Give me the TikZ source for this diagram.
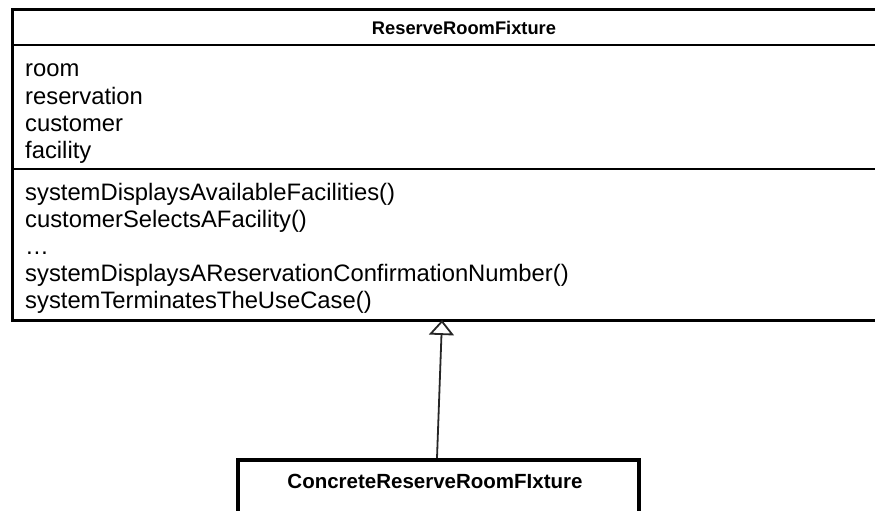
\documentclass[tikz,border=0pt]{standalone}
\usepackage{fontspec}
\setmainfont{Liberation Sans}
\usetikzlibrary{arrows.meta}
\begin{document}
\begin{tikzpicture}[x=1pt,y=-1pt,
  member/.style={anchor=base west, inner sep=0pt, font=\fontsize{23.8}{27}\selectfont},
  classtitle/.style={anchor=base, inner sep=0pt, font=\bfseries\fontsize{18.3}{22}\selectfont},
  classbox/.style={draw=black, anchor=north west, inner sep=0pt},
  divider/.style={line width=2pt},
  generalization/.style={draw=black!85, line width=1.8pt,
    -{Triangle[open, length=15pt, width=25pt, line width=1.8pt]}}]
\useasboundingbox (0,0) rectangle (875,511);
\begin{scope}
\clip (0,0) rectangle (875,511);

% abstract fixture class
\node[classbox, line width=2.6pt, minimum width=904pt, minimum height=311pt] (parent) at (11,8) {};
\node[classtitle] (parentName) at (464,35) {ReserveRoomFixture};
\draw[divider] (11,45) -- (915,45);
\node[member] (aRoom) at (25,77) {room};
\node[member] (aReservation) at (25,104) {reservation};
\node[member] (aCustomer) at (25,131) {customer};
\node[member] (aFacility) at (25,158) {facility};
\draw[divider] (11,169) -- (915,169);
\node[member] (m1) at (25,200) {systemDisplaysAvailableFacilities()};
\node[member] (m2) at (25,227) {customerSelectsAFacility()};
\node[member] (m3) at (25,254) {\dots};
\node[member] (m4) at (25,281) {systemDisplaysAReservationConfirmationNumber()};
\node[member] (m5) at (25,308) {systemTerminatesTheUseCase()};

% concrete fixture class
\node[classbox, line width=4pt, minimum width=401pt, minimum height=100pt] (child) at (236,458) {};
\node[classtitle, font=\bfseries\fontsize{20.5}{24}\selectfont] (childName) at (435,488) {ConcreteReserveRoomFIxture};

% generalization arrow
\coordinate (genFrom) at (437,458);
\coordinate (genTo) at (442,320);
\draw[generalization] (genFrom) -- (genTo);
\end{scope}
\end{tikzpicture}
\end{document}
